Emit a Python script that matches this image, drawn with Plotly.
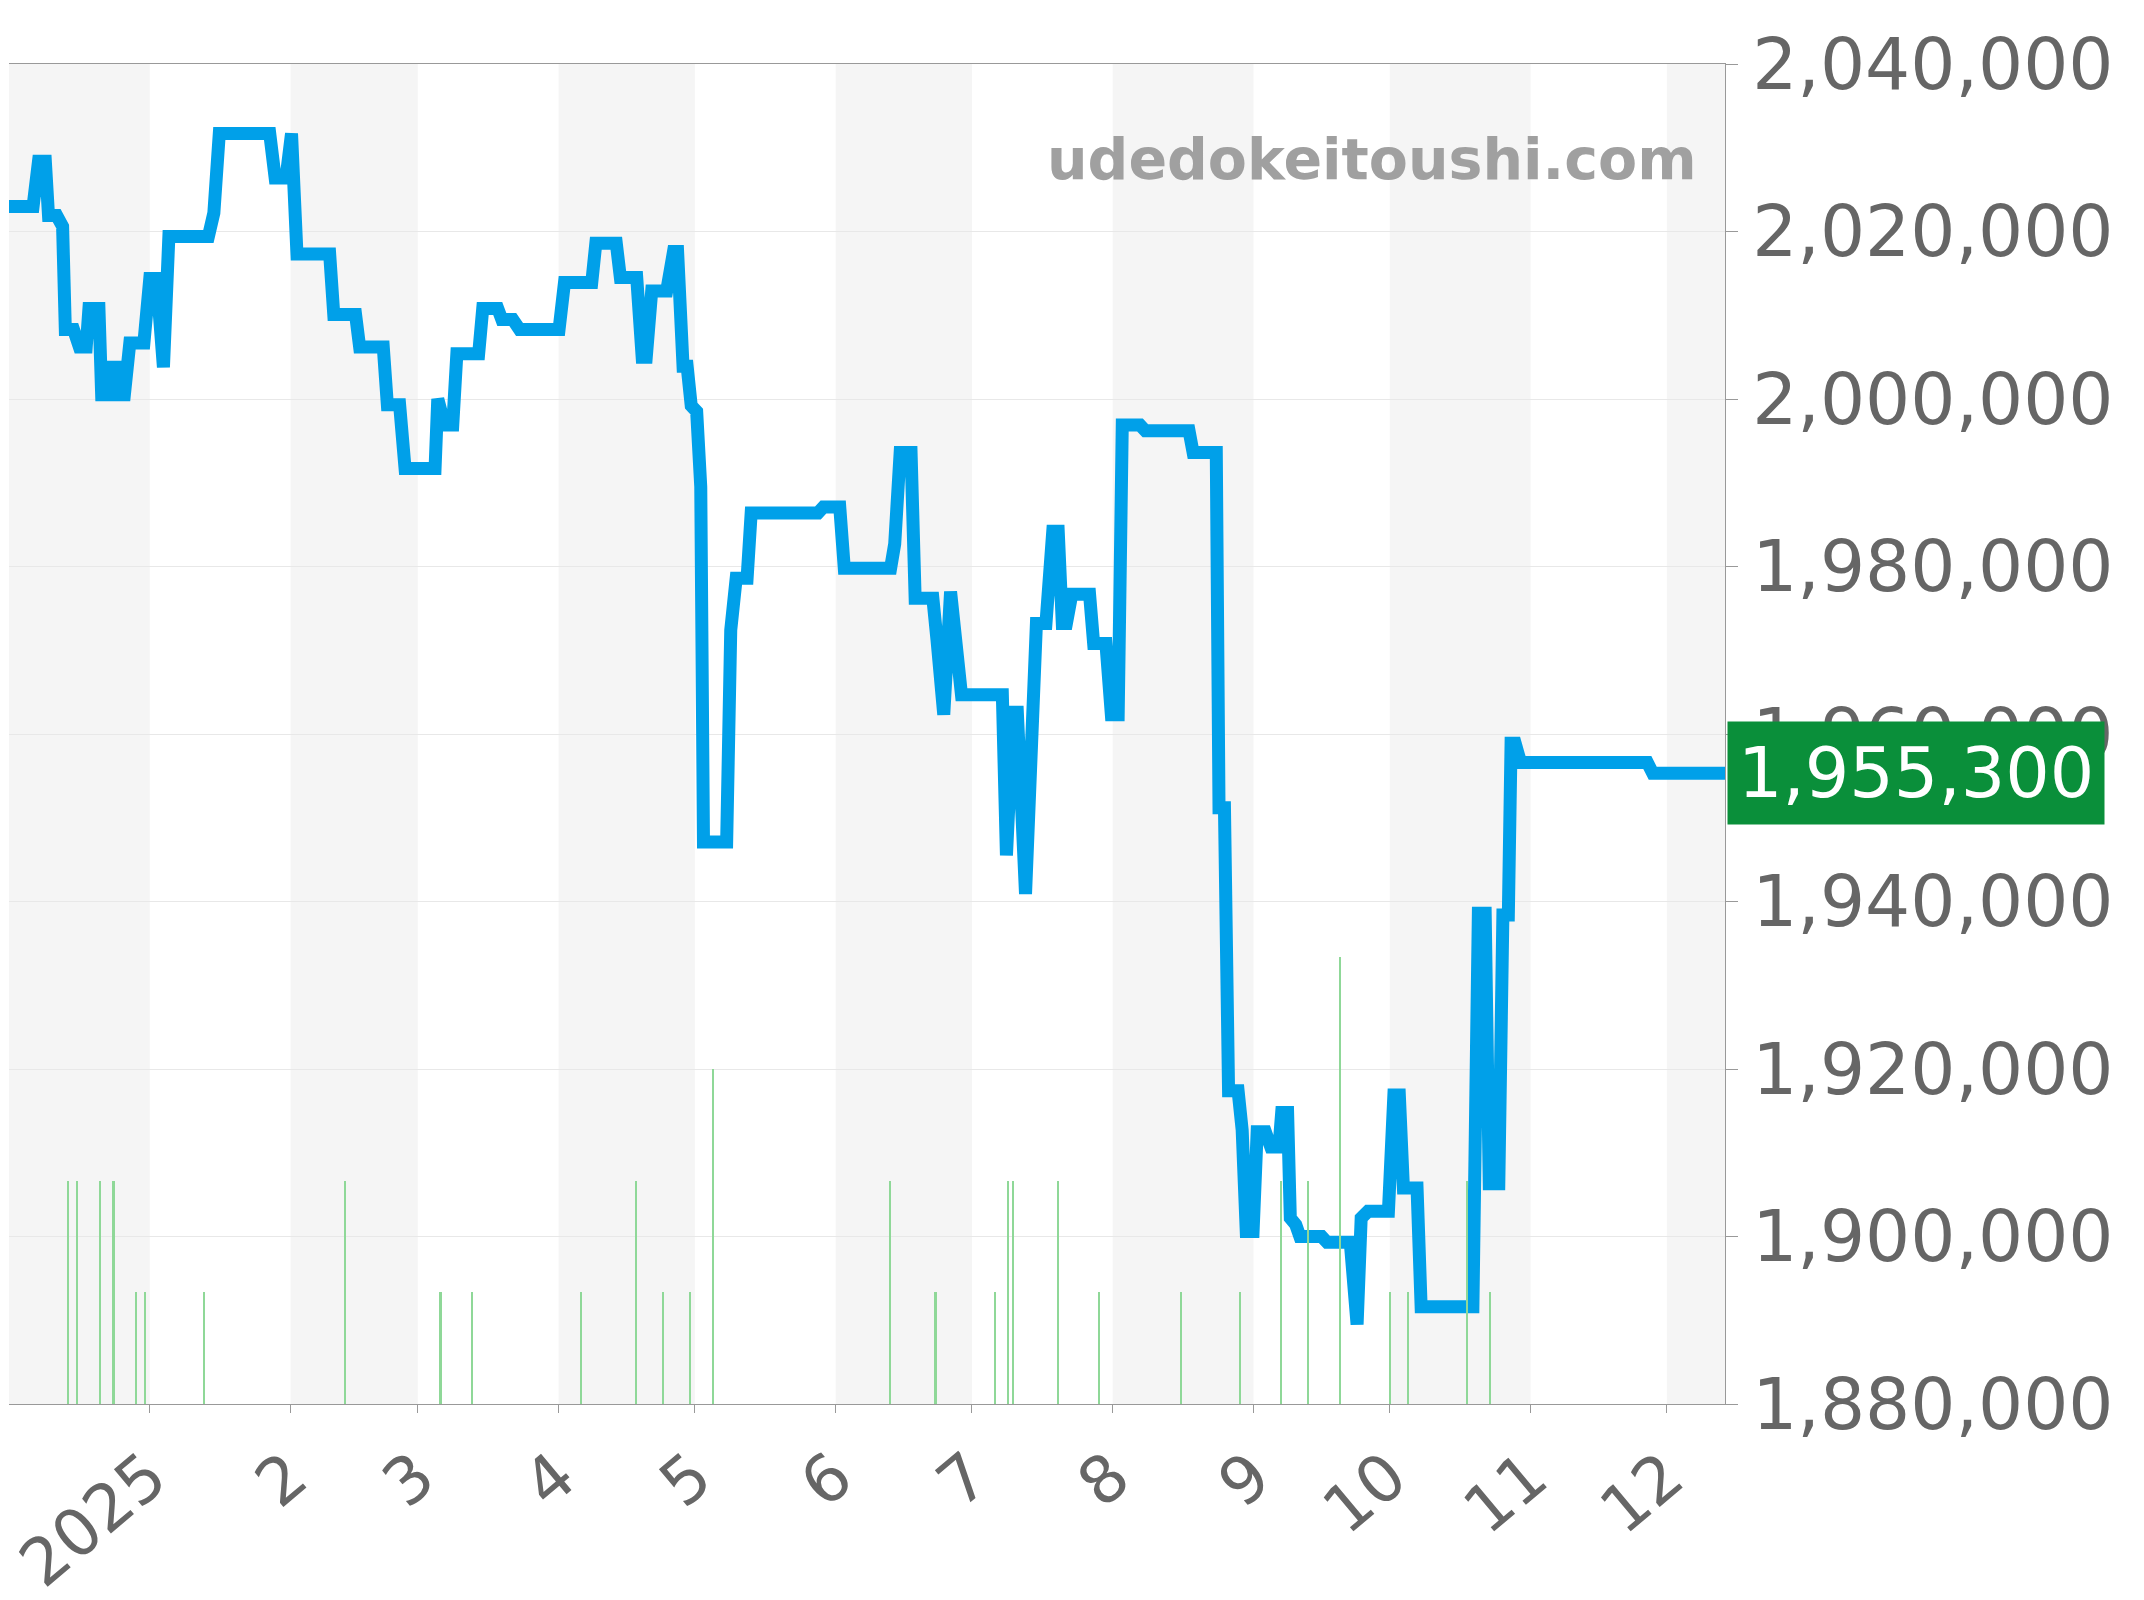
import pandas as pd
import plotly.graph_objects as go

base = pd.Timestamp("2024-12-01")
line_days = [0,5.3,6.5,8.0,8.7,10.5,11.8,12.4,14.2,15.5,17.0,17.6,19.8,20.4,22.0,22.6,23.5,24.1,25.4,26.6,29.7,31.0,32.5,34.0,35.2,43.9,45.1,46.3,57.4,58.6,61.0,62.2,63.4,70.6,71.5,76.3,77.2,82.4,83.3,86.0,87.2,93.8,94.4,95.9,97.7,98.6,103.4,104.3,107.6,108.5,110.9,112.4,121.1,122.3,128.3,129.2,133.7,134.6,138.2,139.4,140.3,141.5,144.8,146.3,147.2,148.4,149.3,150.2,151.4,152.3,152.9,158.0,158.9,160.1,162.5,163.4,178.1,179.3,182.9,183.9,194.1,195.0,196.2,198.6,199.5,203.4,204.3,205.8,207.3,209.7,218.7,219.6,221.1,222.0,223.8,225.0,226.2,228.3,229.8,231.0,231.9,232.8,234.0,237.9,238.8,241.5,242.7,244.2,245.1,249.0,250.2,259.8,260.7,265.8,266.4,267.6,268.5,270.6,271.5,272.4,273.9,274.8,276.6,277.8,279.6,280.2,281.5,282.1,283.3,284.2,289.0,290.2,295.3,296.8,297.7,299.2,303.7,304.9,306.1,307.0,310.0,310.9,322.3,323.5,325.0,325.9,328.0,328.9,330.1,330.7,331.6,332.8,360.7,361.9,377.8]
line_vals = [2023000,2023000,2028400,2028400,2021900,2021900,2020600,2008300,2008300,2006200,2006200,2010800,2010800,2000500,2000500,2003800,2003800,2000500,2000500,2006700,2006700,2014400,2014400,2003800,2019400,2019400,2022200,2031700,2031700,2026400,2026400,2031700,2017300,2017300,2010100,2010100,2006200,2006200,1999300,1999300,1991700,1991700,2000000,1996900,1996900,2005400,2005400,2010800,2010800,2009500,2009500,2008300,2008300,2013900,2013900,2018600,2018600,2014500,2014500,2005000,2005000,2012900,2012900,2017600,2017600,2003900,2003900,1999200,1998500,1989500,1947100,1947100,1972400,1978600,1978600,1986400,1986400,1987100,1987100,1979800,1979800,1982700,1993600,1993600,1976200,1976200,1971300,1962300,1977000,1964700,1964700,1945500,1962600,1962600,1940900,1963800,1973200,1973200,1984200,1984200,1973200,1973200,1976700,1976700,1970800,1970800,1962300,1962300,1996900,1996900,1996200,1996200,1993600,1993600,1951200,1951200,1917400,1917400,1912700,1900600,1900600,1912500,1912500,1910700,1910700,1914800,1914800,1902200,1901400,1900000,1900000,1899300,1899300,1889500,1902200,1903000,1903000,1916900,1916900,1905800,1905800,1891600,1891600,1938600,1938600,1906300,1906300,1938400,1938400,1958900,1958900,1956600,1956600,1955300,1955300]
vol_days = [13,15,20,23,28,30,43,74,95,102,126,138,144,150,155,194,204,217,220,221,231,240,258,271,280,286,293,304,308,321,326]
vol_counts = [2,2,2,2,1,1,1,2,1,1,1,2,1,1,3,2,1,1,2,2,2,1,1,1,2,2,4,1,1,2,1]
month_starts = ["2024-12-01","2025-01-01","2025-02-01","2025-03-01","2025-04-01","2025-05-01","2025-06-01","2025-07-01","2025-08-01","2025-09-01","2025-10-01","2025-11-01","2025-12-01"]
tick_labels = ["2025","2","3","4","5","6","7","8","9","10","11","12"]
last_label = "1,955,300"

x_line = base + pd.to_timedelta(line_days, unit="D")
x_vol = base + pd.to_timedelta(vol_days, unit="D")
x_end = base + pd.Timedelta(days=377.8)

fig = go.Figure()
fig.add_trace(go.Bar(x=x_vol, y=vol_counts, yaxis="y2", marker_color="#8fd898",
                     marker_line_width=0, width=0.5*86400000, showlegend=False))
fig.add_trace(go.Scatter(x=x_line, y=line_vals, mode="lines",
                         line=dict(color="#00a0e9", width=13), showlegend=False))

ms = [pd.Timestamp(m) for m in month_starts] + [x_end]
for i in range(0, len(ms)-1, 2):
    fig.add_shape(type="rect", xref="x", yref="paper", x0=ms[i], x1=min(ms[i+1], x_end),
                  y0=0, y1=1, fillcolor="#f5f5f5", line_width=0, layer="below")

fig.update_layout(
    width=2144, height=1600, plot_bgcolor="white", paper_bgcolor="white",
    margin=dict(l=1, r=427, t=56, b=204), bargap=0,
    font=dict(family="DejaVu Sans", color="#666666"),
    xaxis=dict(range=[base, x_end], tickvals=month_starts[1:], ticktext=tick_labels,
               tickangle=-40, tickfont=dict(size=65), showgrid=False, ticks="outside",
               ticklen=8, tickcolor="#999", showline=True, linecolor="#999", mirror=True,
               automargin=False, ticklabeloverflow="allow"),
    yaxis=dict(side="right", range=[1880000, 2040000], dtick=20000, tickformat=",d",
               tickfont=dict(size=71), gridcolor="#e8e8e8", ticks="outside", ticklen=12,
               tickcolor="#999", showline=True, linecolor="#999", zeroline=False,
               automargin=False),
    yaxis2=dict(overlaying="y", range=[0, 12], visible=False),
)
fig.add_annotation(xref="paper", yref="paper", x=0.985, y=0.955, xanchor="right", yanchor="top",
                   text="<b>udedokeitoushi.com</b>", showarrow=False,
                   font=dict(size=57, color="#a0a0a0"))
fig.add_annotation(xref="paper", yref="y", x=1.0, y=1955300, xanchor="left", xshift=2,
                   text=last_label, showarrow=False, bgcolor="#0a8f3a", borderpad=10,
                   font=dict(size=70, color="white"))
fig.write_html("out.html")
